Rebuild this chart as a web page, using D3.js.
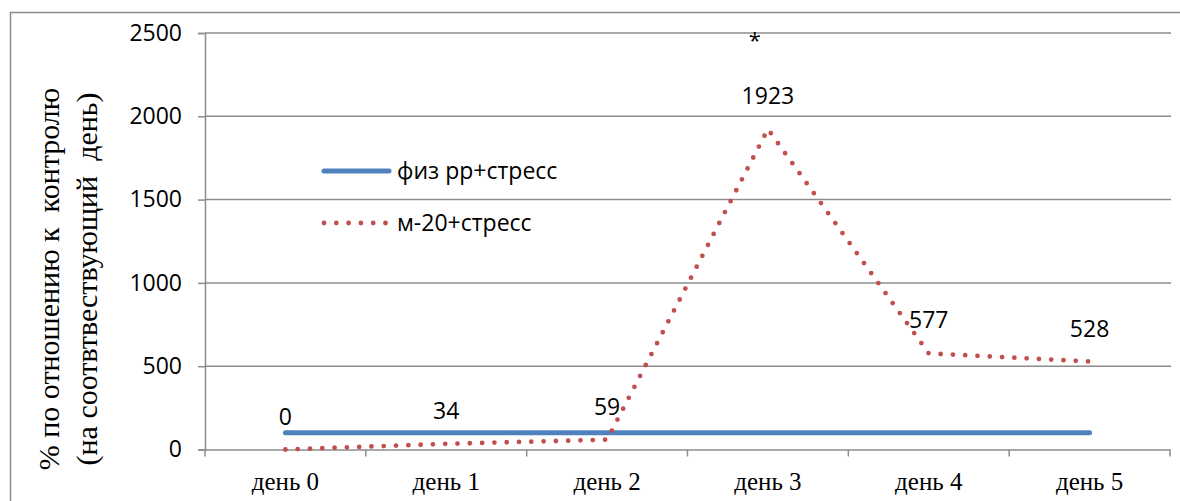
<!DOCTYPE html>
<html>
<head>
<meta charset="utf-8">
<script src="https://cdn.jsdelivr.net/npm/d3@7"></script>
<style>
  html, body { margin: 0; padding: 0; background: #fff; }
  svg { display: block; }
</style>
</head>
<body>
<svg id="chart" width="1180" height="501"></svg>
<script>
const categories = ["день 0", "день 1", "день 2", "день 3", "день 4", "день 5"];
const seriesNames = ["физ рр+стресс", "м-20+стресс"];
const physValues = [100, 100, 100, 100, 100, 100];
const m20Values = [0, 34, 59, 1923, 577, 528];
const yTicks = [0, 500, 1000, 1500, 2000, 2500];
const yTitle = ["% по отношению к  контролю", "(на соотвтвествующий  день)"];
const annotation = "*";

(function () {
const svg = d3.select("#chart");
const pLeft = 205, pRight = 1170, pTop = 33, pBottom = 449.5;
const sans = "'Open Sans', sans-serif";
const serif = "'Liberation Serif', serif";

// frame
svg.append("rect").attr("x", 10.5).attr("y", 12.5).attr("width", 1200).attr("height", 600)
  .attr("fill", "none").attr("stroke", "#8c8c8c").attr("stroke-width", 1.5);

const x = d3.scaleBand().domain(categories).range([pLeft, pRight]).padding(0);
const y = d3.scaleLinear().domain([0, 2500]).range([pBottom, pTop]);

// gridlines
svg.append("g").selectAll("line").data(yTicks.filter(d => d > 0)).join("line")
  .attr("x1", pLeft).attr("x2", pRight + 1)
  .attr("y1", d => y(d)).attr("y2", d => y(d))
  .attr("stroke", "#8c8c8c").attr("stroke-width", 1.5);

// y axis
const yAxis = svg.append("g").attr("transform", `translate(${pLeft},0)`)
  .call(d3.axisLeft(y).tickValues(yTicks).tickSize(7).tickPadding(16).tickFormat(d3.format("d")));
yAxis.select(".domain").attr("stroke", "#8c8c8c").attr("stroke-width", 1.5);
yAxis.selectAll(".tick line").attr("stroke", "#8c8c8c").attr("stroke-width", 1.5);
yAxis.selectAll("text").attr("font-family", sans).attr("font-size", 23).attr("fill", "#000");

// x axis
const xAxis = svg.append("g").attr("transform", `translate(0,${pBottom})`)
  .call(d3.axisBottom(x).tickSize(0).tickPadding(23));
xAxis.select(".domain").attr("stroke", "#8c8c8c").attr("stroke-width", 1.5);
xAxis.selectAll("text").attr("font-family", serif).attr("font-size", 25).attr("fill", "#000");
// boundary ticks
const bounds = categories.map(c => x(c)).concat([x(categories[categories.length - 1]) + x.bandwidth()]);
svg.append("g").selectAll("line").data(bounds).join("line")
  .attr("x1", d => d).attr("x2", d => d).attr("y1", pBottom).attr("y2", pBottom + 7)
  .attr("stroke", "#8c8c8c").attr("stroke-width", 1.5);

const cx = c => x(c) + x.bandwidth() / 2;

// blue line
const line1 = d3.line().x((d, i) => cx(categories[i])).y(d => y(d));
svg.append("path").datum(physValues).attr("d", line1)
  .attr("fill", "none").attr("stroke", "#4F81BD").attr("stroke-width", 5).attr("stroke-linecap", "round");

// red dotted line
svg.append("path").datum(m20Values).attr("d", line1)
  .attr("fill", "none").attr("stroke", "#C0504D").attr("stroke-width", 4.8)
  .attr("stroke-linecap", "round").attr("stroke-dasharray", "0 12.3");

// data labels
svg.append("g").selectAll("text").data(m20Values).join("text")
  .attr("x", (d, i) => cx(categories[i]))
  .attr("y", d => y(d) - 33)
  .attr("dy", "0.35em")
  .attr("text-anchor", "middle")
  .attr("font-family", sans).attr("font-size", 23).attr("fill", "#000")
  .text(d => d);

// asterisk
svg.append("text").attr("x", cx(categories[3]) - 13).attr("y", y(2500) + 15)
  .attr("text-anchor", "middle").attr("font-family", sans).attr("font-size", 22)
  .text(annotation);

// legend
const legend = svg.append("g");
const legendY = [171, 223];
legend.append("line").attr("x1", 324).attr("x2", 389).attr("y1", legendY[0]).attr("y2", legendY[0])
  .attr("stroke", "#4F81BD").attr("stroke-width", 5).attr("stroke-linecap", "round");
legend.append("line").attr("x1", 324).attr("x2", 389).attr("y1", legendY[1]).attr("y2", legendY[1])
  .attr("stroke", "#C0504D").attr("stroke-width", 4.8).attr("stroke-linecap", "round").attr("stroke-dasharray", "0 12.3");
legend.selectAll("text").data(seriesNames).join("text")
  .attr("x", 397).attr("y", (d, i) => legendY[i]).attr("dy", "0.35em")
  .attr("font-family", sans).attr("font-size", 23).attr("fill", "#000")
  .text(d => d);

// y title
const yt = svg.append("text").attr("transform", "translate(48,279) rotate(-90)")
  .attr("text-anchor", "middle").attr("font-family", serif).attr("font-size", 30).attr("fill", "#000")
  .style("white-space", "pre");
yt.selectAll("tspan").data(yTitle).join("tspan")
  .attr("x", 0).attr("dy", (d, i) => i === 0 ? "0.35em" : "38px").text(d => d);
})();
</script>
</body>
</html>
